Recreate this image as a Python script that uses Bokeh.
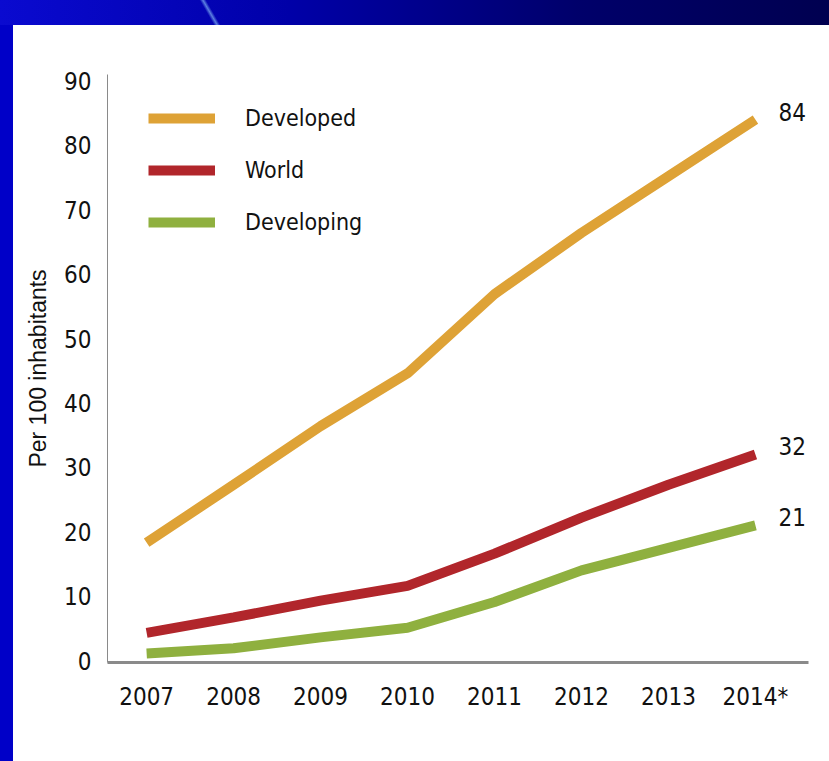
from bokeh.plotting import figure
from bokeh.models import Range1d, Legend, LegendItem, FixedTicker, Column
from bokeh.core.properties import value
from bokeh.embed import file_html
from bokeh.resources import INLINE

years = [2007, 2008, 2009, 2010, 2011, 2012, 2013, 2014]
year_labels = {2014: "2014*"}
developed = [18.3, 27.3, 36.4, 44.6, 56.9, 66.4, 75.2, 84]
world = [4.3, 6.7, 9.3, 11.6, 16.6, 22.2, 27.3, 32]
developing = [1.1, 1.9, 3.6, 5.1, 9.1, 14.0, 17.5, 21]
series_names = ["Developed", "World", "Developing"]
end_labels = ["84", "32", "21"]
y_ticks = [0, 10, 20, 30, 40, 50, 60, 70, 80, 90]

colors = ["#dea236", "#b1262b", "#8fb03f"]
FONT = "DejaVu Sans Condensed"

p = figure(width=816, height=736, output_backend="svg", toolbar_location=None,
           x_range=Range1d(2006.55, 2014.61), y_range=Range1d(-0.3, 91))
p.margin = (25, 0, 0, 13)
p.styles = {"background-color": "white"}
p.min_border_left = 94
p.min_border_right = 21
p.min_border_top = 49
p.min_border_bottom = 99
p.background_fill_color = "white"
p.border_fill_color = "white"
p.outline_line_color = None
p.xgrid.visible = False
p.ygrid.visible = False

renderers = []
for vals, c in zip([developed, world, developing], colors):
    r = p.line(years, vals, line_color=c, line_width=10)
    renderers.append(r)

end_vals = [developed[-1], world[-1], developing[-1]]
p.text(x=[years[-1]] * 3, y=end_vals, text=end_labels, x_offset=23, y_offset=-8,
       text_font=value(FONT), text_font_size="24px", text_baseline="middle",
       text_align="left", text_color="#111111")

legend = Legend(items=[LegendItem(label=n, renderers=[r]) for n, r in zip(series_names, renderers)],
                location=(41, 425))
legend.border_line_color = None
legend.background_fill_alpha = 0
legend.padding = 0
legend.margin = 0
legend.spacing = 22
legend.glyph_width = 67
legend.glyph_height = 30
legend.label_height = 30
legend.label_standoff = 30
legend.label_text_font = FONT
legend.label_text_font_size = "23px"
legend.label_text_color = "#111111"
p.add_layout(legend)

p.xaxis.ticker = FixedTicker(ticks=years)
p.xaxis.major_label_overrides = year_labels
p.yaxis.ticker = FixedTicker(ticks=y_ticks)
for ax in (p.xaxis, p.yaxis):
    ax.major_tick_line_color = None
    ax.minor_tick_line_color = None
    ax.major_label_text_font = FONT
    ax.major_label_text_font_size = "24px"
    ax.major_label_text_color = "#111111"
p.xaxis.axis_line_color = "#8a8a8a"
p.xaxis.axis_line_width = 3
p.yaxis.axis_line_color = "#8a8a8a"
p.yaxis.axis_line_width = 1
p.xaxis.major_label_standoff = 14
p.yaxis.major_label_standoff = 10
p.yaxis.axis_label = "Per 100 inhabitants"
p.yaxis.axis_label_text_font = "Liberation Sans"
p.yaxis.axis_label_text_font_style = "normal"
p.yaxis.axis_label_text_font_size = "23px"
p.yaxis.axis_label_text_color = "#111111"
p.yaxis.axis_label_standoff = 10

page = Column(p, width=829, height=761,
              styles={"background": "linear-gradient(60deg, transparent 45%, #5b7fe0 50%, transparent 55%) 185px 0/50px 25px no-repeat, "
                                    "linear-gradient(90deg, #0a0ad0 0%, #0000a8 35%, #00006a 70%, #000050 100%) 0 0/100% 25px no-repeat, "
                                    "#0000c8"})

open("out.html", "w").write(file_html(page, INLINE))
